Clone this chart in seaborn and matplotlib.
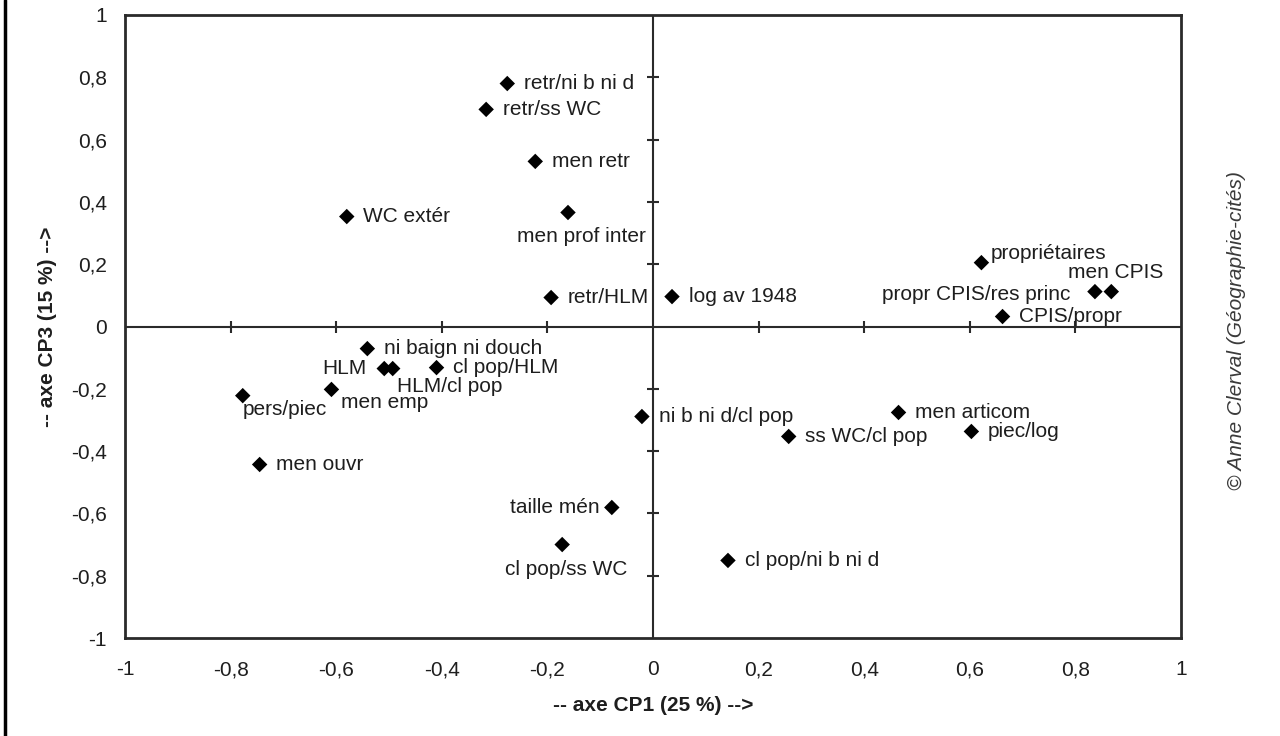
import matplotlib
matplotlib.use("Agg")
import matplotlib.pyplot as plt
from matplotlib.lines import Line2D
import seaborn as sns
import pandas as pd
import numpy as np

# coordonnées des variables sur le plan factoriel CP1 / CP3
labels = [
    "retr/ni b ni d", "retr/ss WC", "men retr", "men prof inter", "WC extér",
    "retr/HLM", "log av 1948", "propriétaires", "propr CPIS/res princ", "men CPIS",
    "CPIS/propr", "ni baign ni douch", "HLM", "HLM/cl pop", "cl pop/HLM",
    "pers/piec", "men emp", "men ouvr", "ni b ni d/cl pop", "ss WC/cl pop",
    "men articom", "piec/log", "taille mén", "cl pop/ss WC", "cl pop/ni b ni d",
]
cp1 = [
    -0.276, -0.316, -0.223, -0.161, -0.580,
    -0.193, 0.036, 0.622, 0.837, 0.868,
    0.662, -0.541, -0.509, -0.493, -0.410,
    -0.777, -0.609, -0.745, -0.021, 0.257,
    0.465, 0.603, -0.078, -0.172, 0.142,
]
cp3 = [
    0.780, 0.697, 0.530, 0.366, 0.353,
    0.093, 0.096, 0.205, 0.112, 0.112,
    0.032, -0.071, -0.135, -0.135, -0.132,
    -0.222, -0.202, -0.443, -0.289, -0.353,
    -0.276, -0.337, -0.581, -0.700, -0.751,
]
ticks = [-1, -0.8, -0.6, -0.4, -0.2, 0, 0.2, 0.4, 0.6, 0.8, 1]
tick_labels = ["-1", "-0,8", "-0,6", "-0,4", "-0,2", "0", "0,2", "0,4", "0,6", "0,8", "1"]

df = pd.DataFrame({"label": labels, "cp1": cp1, "cp3": cp3})

# placement des étiquettes (décalage en points, alignement)
default_pos = ((12, 0), "left")
label_pos = {
    "men prof inter": ((10, -17), "center"),
    "propriétaires": ((7, 6.5), "left"),
    "men CPIS": ((3, 14), "center"),
    "propr CPIS/res princ": ((-18, -2), "right"),
    "HLM": ((-13, 0), "right"),
    "HLM/cl pop": ((3, -13), "left"),
    "pers/piec": ((0, -10), "left"),
    "men emp": ((7, -9.5), "left"),
    "taille mén": ((-9, 0), "right"),
    "cl pop/ss WC": ((3, -18), "center"),
}

sns.set_style("white")
plt.rcParams["font.family"] = ["Liberation Sans", "DejaVu Sans"]
plt.rcParams["font.size"] = 15

fig = plt.figure(figsize=(12.8, 7.36), dpi=100)
ax = fig.add_axes([125 / 1280, 1 - 638 / 736, (1181 - 125) / 1280, (638 - 15) / 736])

line_col = "#2a2a2a"
text_col = "#1e1e1e"

# axes centraux avec graduations croisées
ax.axhline(0, color=line_col, lw=1.5, zorder=1)
ax.axvline(0, color=line_col, lw=1.5, zorder=1)
inner = [t for t in ticks if t not in (-1, 0, 1)]
ax.plot(inner, np.zeros(len(inner)), ls="none", marker="|", ms=9, mew=1.5, color=line_col, zorder=1)
ax.plot(np.zeros(len(inner)), inner, ls="none", marker="_", ms=9, mew=1.5, color=line_col, zorder=1)

sns.scatterplot(data=df, x="cp1", y="cp3", marker="D", s=62, color="black",
                edgecolor="none", ax=ax, zorder=3)

for _, row in df.iterrows():
    off, ha = label_pos.get(row["label"], default_pos)
    ax.annotate(row["label"], (row["cp1"], row["cp3"]), xytext=off,
                textcoords="offset points", ha=ha, va="center",
                fontsize=15, color=text_col)

ax.set_xlim(-1, 1)
ax.set_ylim(-1, 1)
ax.set_xticks(ticks)
ax.set_xticklabels(tick_labels)
ax.set_yticks(ticks)
ax.set_yticklabels(tick_labels)
ax.tick_params(axis="both", length=0, labelsize=15, colors=text_col)
ax.tick_params(axis="x", pad=16)
ax.tick_params(axis="y", pad=13)
for sp in ax.spines.values():
    sp.set_color(line_col)
    sp.set_linewidth(2)

ax.set_xlabel("-- axe CP1 (25 %) -->", fontsize=15, fontweight="bold", labelpad=12, color=text_col)
ax.set_ylabel("-- axe CP3 (15 %) -->", fontsize=15, fontweight="bold", labelpad=10, color=text_col)

fig.text(1237 / 1280, 1 - 330 / 736, "© Anne Clerval (Géographie-cités)", rotation=90,
         ha="center", va="center", fontsize=15, style="italic", color="#3a3a3a")

# bordure gauche de l'image
fig.add_artist(Line2D([5 / 1280, 5 / 1280], [0, 1], transform=fig.transFigure,
                      color="black", lw=2.5))

fig.savefig("out.png", dpi=100, facecolor="white")
